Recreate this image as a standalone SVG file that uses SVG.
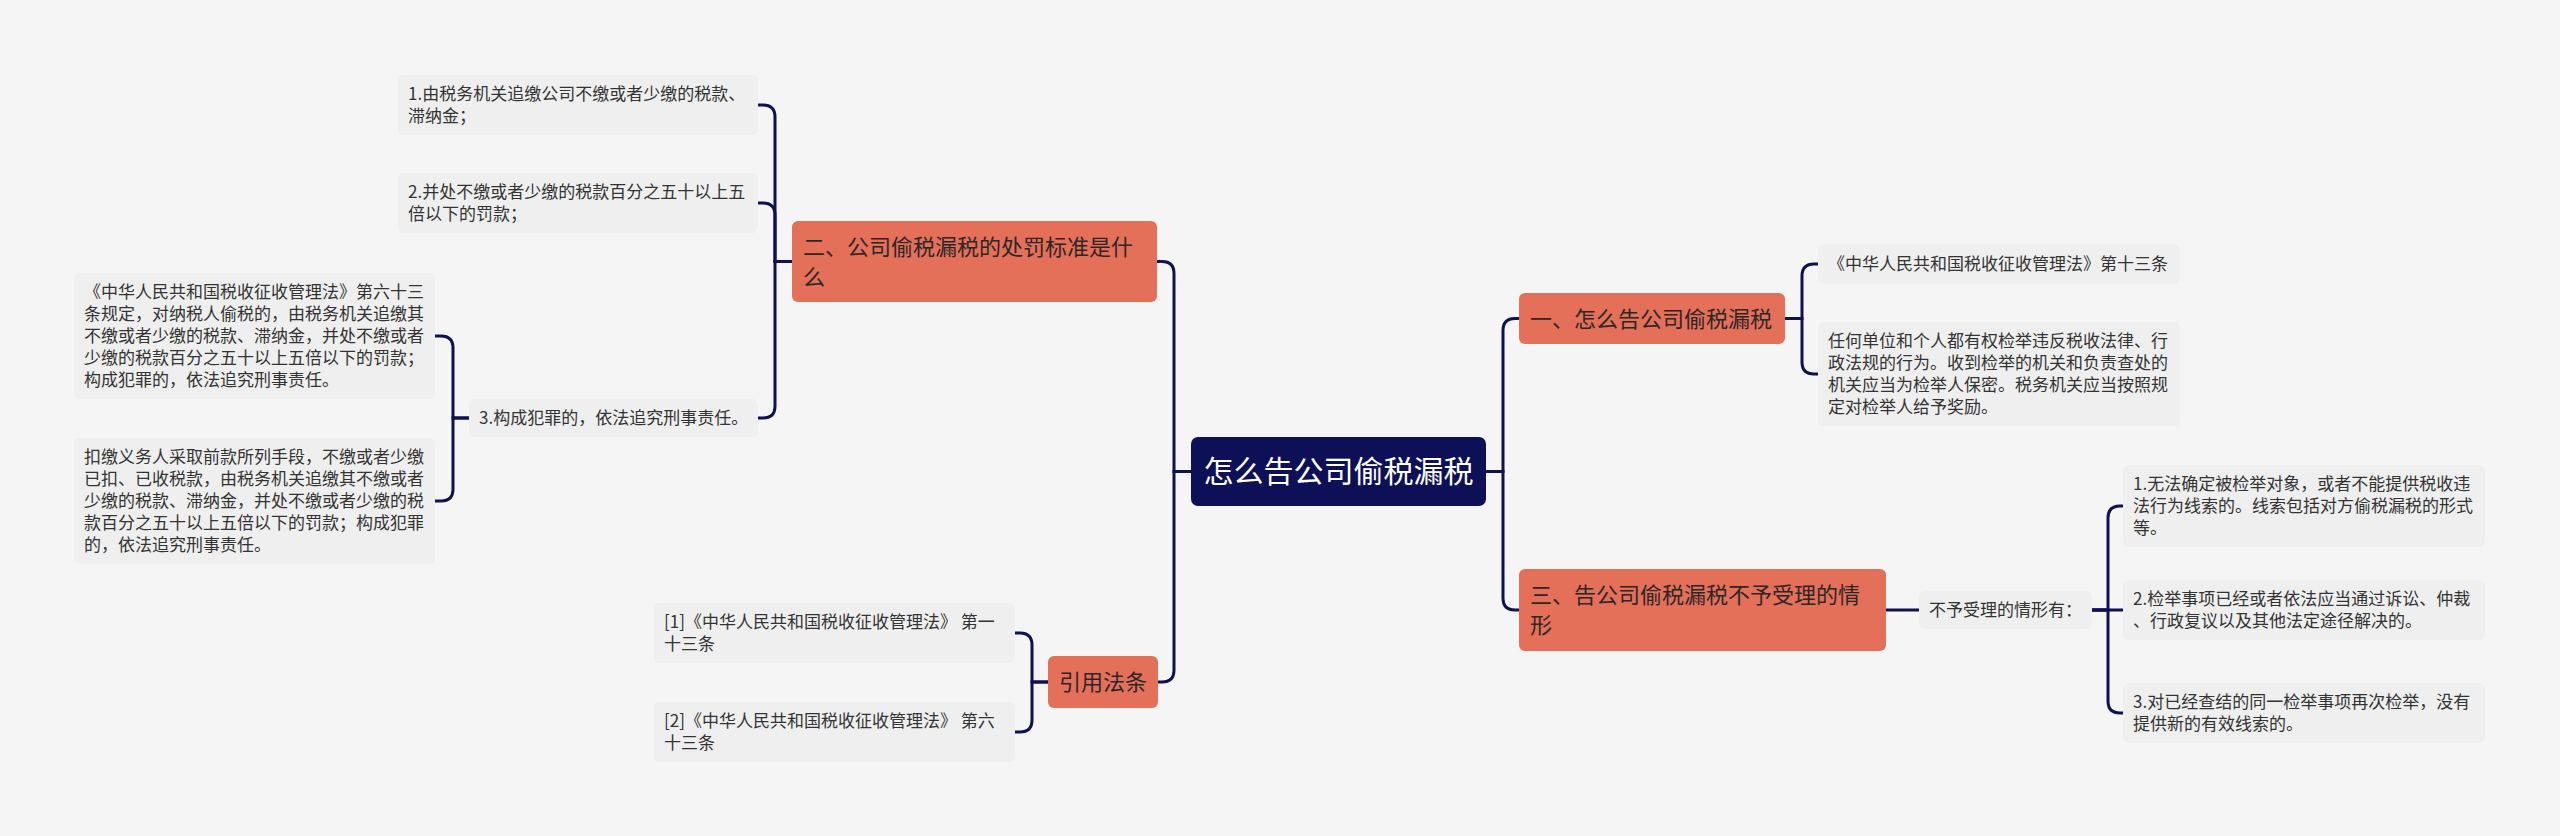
<svg xmlns="http://www.w3.org/2000/svg" width="2560" height="836" viewBox="0 0 2560 836">
<style>
.bg{fill:#f5f5f5}
.conn path{fill:none;stroke:#0f1150;stroke-width:3;stroke-linecap:round}
.root rect{fill:#0d1057}
.root text{fill:#ffffff;font-size:30px}
.br rect{fill:#e4705a}
.br text{fill:#2e2626;font-size:22px}
.lf rect{fill:#efefef}
.lf text{fill:#333333;font-size:17px}
text{font-family:"Noto Sans CJK SC","Noto Sans",sans-serif}
</style>
<rect class="bg" x="0" y="0" width="2560" height="836"/>
<g id="connectors" class="conn">
<path d="M1486 471.5 H1503 V330.5 Q1503 318.5 1515 318.5 H1519"/>
<path d="M1486 471.5 H1503 V598 Q1503 610 1515 610 H1519"/>
<path d="M1191 471.5 H1174 V273.5 Q1174 261.5 1162 261.5 H1157"/>
<path d="M1191 471.5 H1174 V670 Q1174 682 1162 682 H1158"/>
<path d="M1785 318.5 H1802 V276 Q1802 264 1814 264 H1818"/>
<path d="M1785 318.5 H1802 V362 Q1802 374 1814 374 H1818"/>
<path d="M1886 610 H1919"/>
<path d="M2092 610 H2108 V518 Q2108 506 2120 506 H2123"/>
<path d="M2092 610 H2123"/>
<path d="M2092 610 H2108 V701 Q2108 713 2120 713 H2123"/>
<path d="M792 261.5 H775 V117 Q775 105 763 105 H758"/>
<path d="M792 261.5 H775 V215 Q775 203 763 203 H758"/>
<path d="M792 261.5 H775 V406 Q775 418 763 418 H758"/>
<path d="M469 418 H453 V348 Q453 336 441 336 H435"/>
<path d="M469 418 H453 V489 Q453 501 441 501 H435"/>
<path d="M1048 682 H1032 V645 Q1032 633 1020 633 H1015"/>
<path d="M1048 682 H1032 V720 Q1032 732 1020 732 H1015"/>
</g>
<g id="root" class="root">
<rect x="1191" y="437" width="295" height="69" rx="7"/>
<text x="1338.5" y="482" text-anchor="middle">怎么告公司偷税漏税</text>
</g>
<g id="n1" class="br">
<rect x="1519" y="293" width="266" height="51" rx="6"/>
<text x="1530" y="326.5">一、怎么告公司偷税漏税</text>
</g>
<g id="n1a" class="lf">
<rect x="1818" y="244" width="362" height="40" rx="6"/>
<text x="1828" y="270">《中华人民共和国税收征收管理法》第十三条</text>
</g>
<g id="n1b" class="lf">
<rect x="1818" y="322" width="362" height="104" rx="6"/>
<text x="1828" y="347">任何单位和个人都有权检举违反税收法律、行</text>
<text x="1828" y="369">政法规的行为。收到检举的机关和负责查处的</text>
<text x="1828" y="391">机关应当为检举人保密。税务机关应当按照规</text>
<text x="1828" y="413">定对检举人给予奖励。</text>
</g>
<g id="n3" class="br">
<rect x="1519" y="569" width="367" height="82" rx="6"/>
<text x="1530" y="603">三、告公司偷税漏税不予受理的情</text>
<text x="1530" y="633">形</text>
</g>
<g id="n3a" class="lf">
<rect x="1919" y="591" width="173" height="38" rx="6"/>
<text x="1929" y="616">不予受理的情形有：</text>
</g>
<g id="n3a1" class="lf">
<rect x="2123" y="465" width="362" height="82" rx="6"/>
<text x="2133" y="490">1.无法确定被检举对象，或者不能提供税收违</text>
<text x="2133" y="512">法行为线索的。线索包括对方偷税漏税的形式</text>
<text x="2133" y="534">等。</text>
</g>
<g id="n3a2" class="lf">
<rect x="2123" y="580" width="362" height="60" rx="6"/>
<text x="2133" y="605">2.检举事项已经或者依法应当通过诉讼、仲裁</text>
<text x="2133" y="627">、行政复议以及其他法定途径解决的。</text>
</g>
<g id="n3a3" class="lf">
<rect x="2123" y="683" width="362" height="60" rx="6"/>
<text x="2133" y="708">3.对已经查结的同一检举事项再次检举，没有</text>
<text x="2133" y="730">提供新的有效线索的。</text>
</g>
<g id="n2" class="br">
<rect x="792" y="221" width="365" height="81" rx="6"/>
<text x="803" y="254.5">二、公司偷税漏税的处罚标准是什</text>
<text x="803" y="284.5">么</text>
</g>
<g id="n2a" class="lf">
<rect x="398" y="75" width="360" height="60" rx="6"/>
<text x="408" y="100">1.由税务机关追缴公司不缴或者少缴的税款、</text>
<text x="408" y="122">滞纳金；</text>
</g>
<g id="n2b" class="lf">
<rect x="398" y="173" width="360" height="60" rx="6"/>
<text x="408" y="198">2.并处不缴或者少缴的税款百分之五十以上五</text>
<text x="408" y="220">倍以下的罚款；</text>
</g>
<g id="n2c" class="lf">
<rect x="469" y="399" width="289" height="38" rx="6"/>
<text x="479" y="424">3.构成犯罪的，依法追究刑事责任。</text>
</g>
<g id="n2c1" class="lf">
<rect x="74" y="273" width="361" height="126" rx="6"/>
<text x="84" y="298">《中华人民共和国税收征收管理法》第六十三</text>
<text x="84" y="320">条规定，对纳税人偷税的，由税务机关追缴其</text>
<text x="84" y="342">不缴或者少缴的税款、滞纳金，并处不缴或者</text>
<text x="84" y="364">少缴的税款百分之五十以上五倍以下的罚款；</text>
<text x="84" y="386">构成犯罪的，依法追究刑事责任。</text>
</g>
<g id="n2c2" class="lf">
<rect x="74" y="438" width="361" height="126" rx="6"/>
<text x="84" y="463">扣缴义务人采取前款所列手段，不缴或者少缴</text>
<text x="84" y="485">已扣、已收税款，由税务机关追缴其不缴或者</text>
<text x="84" y="507">少缴的税款、滞纳金，并处不缴或者少缴的税</text>
<text x="84" y="529">款百分之五十以上五倍以下的罚款；构成犯罪</text>
<text x="84" y="551">的，依法追究刑事责任。</text>
</g>
<g id="n4" class="br">
<rect x="1048" y="656" width="110" height="52" rx="6"/>
<text x="1059" y="690">引用法条</text>
</g>
<g id="n4a" class="lf">
<rect x="654" y="603" width="361" height="60" rx="6"/>
<text x="664" y="628">[1]《中华人民共和国税收征收管理法》 第一</text>
<text x="664" y="650">十三条</text>
</g>
<g id="n4b" class="lf">
<rect x="654" y="702" width="361" height="60" rx="6"/>
<text x="664" y="727">[2]《中华人民共和国税收征收管理法》 第六</text>
<text x="664" y="749">十三条</text>
</g>
</svg>
